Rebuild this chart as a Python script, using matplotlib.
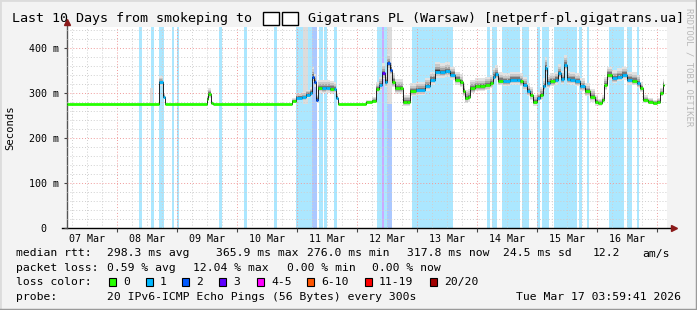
import numpy as np
import pandas as pd
import matplotlib
matplotlib.use("Agg")
import matplotlib.pyplot as plt
import matplotlib.dates as mdates
from matplotlib.patches import Rectangle
from matplotlib.lines import Line2D
from matplotlib.ticker import MultipleLocator, FuncFormatter, NullFormatter

W, H = 697, 310
START = pd.Timestamp("2026-03-07 04:00")
SPAN_H = 240

# median rtt samples (hours since start, ms)
hours = [0, 36.8, 38.4, 39.2, 56.0, 56.4, 57.6, 58.4, 90.0, 91.6, 94.0, 95.6, 97.2, 98.0,
         98.8, 99.6, 100.4, 102.0, 103.6, 105.2, 106.8, 107.6, 108.4, 119.6, 122.0, 123.6,
         124.8, 126.0, 127.2, 128.0, 129.2, 130.0, 131.2, 133.2, 134.4, 136.0, 137.2, 139.6,
         143.2, 145.2, 147.2, 149.2, 151.2, 153.2, 155.2, 157.2, 158.4, 159.2, 160.4, 161.2,
         163.2, 165.2, 167.2, 169.2, 170.4, 171.2, 172.4, 174.4, 177.2, 180.0, 181.2, 182.4,
         184.0, 185.2, 186.4, 188.0, 189.2, 190.4, 191.2, 192.0, 193.2, 195.2, 196.4, 197.6,
         198.8, 200.0, 201.2, 203.2, 205.2, 207.2, 209.2, 211.2, 212.4, 214.0, 214.8, 216.0,
         218.0, 220.0, 222.0, 224.0, 226.0, 228.0, 229.2, 230.4, 232.4, 234.4, 236.0, 237.2,
         238.4]
median_ms = [276, 324, 292, 276, 288, 298, 278, 276, 283, 290, 291, 296, 300, 337,
             325, 285, 312, 311, 312, 310, 309, 290, 276, 280, 283, 309,
             318, 344, 324, 366, 352, 325, 311, 311, 281, 281, 304, 307,
             316, 330, 348, 346, 349, 341, 330, 324, 304, 289, 292, 311,
             315, 315, 318, 322, 337, 342, 328, 326, 330, 330, 326, 318,
             304, 296, 281, 289, 296, 315, 357, 322, 326, 330, 344, 331,
             363, 331, 330, 326, 315, 304, 292, 281, 278, 285, 318, 341,
             333, 337, 341, 330, 328, 322, 311, 285, 281, 278, 281, 300,
             318]
# half-width of the grey "smoke" around the median (ms)
smoke_ms = [0, 14, 8, 0, 6, 14, 4, 0, 6, 10, 12, 12, 14, 22,
            18, 12, 18, 18, 18, 18, 16, 10, 0, 4, 8, 16,
            18, 22, 18, 22, 22, 20, 20, 20, 16, 16, 18, 18,
            18, 18, 22, 20, 20, 18, 18, 18, 18, 18, 18, 18,
            18, 18, 18, 18, 20, 20, 18, 18, 18, 18, 18, 18,
            18, 18, 14, 14, 18, 18, 24, 18, 18, 18, 20, 18,
            22, 18, 18, 18, 18, 18, 18, 14, 10, 10, 18, 18,
            18, 18, 18, 18, 18, 18, 14, 10, 8, 8, 8, 12,
            14]
last_hour = 239.0
# tall smoke columns (start h, end h, top ms)
smoke_cols = [(33.2, 34.4, 312), (94.4, 96.4, 450), (128.0, 130.0, 450)]

# packet loss periods (start h, end h, loss colour index)
loss_spans = [(28.8, 30.0, 1), (33.6, 34.8, 1), (36.8, 38.8, 1), (42.0, 42.8, 1),
              (44.0, 44.8, 1), (60.8, 62.0, 1), (70.8, 72.0, 1), (82.8, 84.0, 1),
              (91.6, 98.0, 1), (98.0, 100.0, 2), (100.8, 102.4, 1), (102.8, 104.0, 1),
              (106.8, 108.0, 1), (124.0, 126.0, 1), (126.0, 126.8, 3), (126.8, 128.0, 1),
              (128.0, 130.0, 2), (138.0, 154.4, 1), (168.0, 169.2, 1), (170.0, 172.0, 1),
              (174.0, 181.2, 1), (182.0, 184.8, 1), (188.0, 189.2, 1), (190.0, 192.8, 1),
              (194.8, 204.0, 1), (204.8, 206.0, 1), (208.0, 208.8, 1), (216.8, 222.8, 1),
              (224.0, 226.0, 1), (228.0, 228.8, 1)]

loss_labels = ["0", "1", "2", "3", "4-5", "6-10", "11-19", "20/20"]
loss_colors = ["#26ff00", "#00b8ff", "#0059ff", "#5e00ff", "#ff00ff", "#ff5500", "#ff0000", "#a10000"]
loss_box_x = [109, 146, 182, 219, 257, 307, 365, 430]

# title; the two flag characters have no glyph in any installed font,
# so they are drawn as "missing glyph" boxes like the reference shows
title_left = "Last 10 Days from smokeping to"
title_right = "Gigatrans PL (Warsaw) [netperf-pl.gigatrans.ua]"
tofu_x = [263, 282]
rtt_items = [("median rtt:", 16), ("298.3 ms avg", 107), ("365.9 ms max", 216), ("276.0 ms min", 307),
             ("317.8 ms now", 407), ("24.5 ms sd", 503), ("12.2", 593), ("am/s", 642)]
loss_items = [("packet loss:", 16), ("0.59 % avg", 107), ("12.04 % max", 193),
              ("0.00 % min", 287), ("0.00 % now", 372)]
probe_text = "20 IPv6-ICMP Echo Pings (56 Bytes) every 300s"
stamp_text = "Tue Mar 17 03:59:41 2026"

plt.rcParams["font.family"] = ["DejaVu Sans Mono", "DejaVu Sans"]
fig = plt.figure(figsize=(W / 100, H / 100), dpi=100, facecolor="#f3f3f3")
ax = fig.add_axes([67 / W, 1 - 228.3 / H, 600 / W, (228.3 - 27) / H])
ax.set_facecolor("white")

t0 = mdates.date2num(START.to_pydatetime())
x = t0 + np.array(hours) / 24.0
med = np.array(median_ms, float)
spr = np.array(smoke_ms, float)
x_ext = np.append(x, t0 + last_hour / 24.0)
med_ext = np.append(med, med[-1])
spr_ext = np.append(spr, spr[-1])

# loss bars
for a, b, lvl in loss_spans:
    ax.axvspan(t0 + a / 24, t0 + b / 24, color=loss_colors[lvl], alpha=0.33, lw=0, zorder=1)

# smoke
for a, b, top in smoke_cols:
    ax.fill_between([t0 + a / 24, t0 + b / 24], 276, top, color="#dcdcdc", lw=0, zorder=1.2)
for f, c in [(1.0, "#e2e2e2"), (0.72, "#c8c8c8"), (0.48, "#a6a6a6"), (0.28, "#787878"), (0.12, "#3c3c3c")]:
    ax.fill_between(x_ext, med_ext - 0.6 * f * spr_ext, med_ext + f * spr_ext,
                    step="post", color=c, lw=0, zorder=1.3)

# median line, coloured by loss
ax.step(x_ext, med_ext, where="post", color="black", lw=0.6, zorder=3)
levels = []
for h in hours:
    lv = 0
    for a, b, l in loss_spans:
        if a <= h < b:
            lv = l
    levels.append(lv)
for i in range(len(x)):
    ax.hlines(med[i], x[i], x_ext[i + 1], colors=loss_colors[levels[i]], lw=2.0, zorder=4)

ax.set_xlim(t0, t0 + SPAN_H / 24)
ax.set_ylim(0, 447)

# grid / ticks
ax.xaxis.set_major_locator(mdates.DayLocator())
ax.xaxis.set_minor_locator(mdates.HourLocator(byhour=[6, 12, 18]))
ax.xaxis.set_major_formatter(NullFormatter())
ax.xaxis.set_minor_formatter(FuncFormatter(
    lambda v, p: mdates.num2date(v).strftime("%d %b") if mdates.num2date(v).hour == 12 else ""))
ax.yaxis.set_major_locator(MultipleLocator(100))
ax.yaxis.set_minor_locator(MultipleLocator(20))
ax.yaxis.set_major_formatter(FuncFormatter(lambda v, p: "0  " if v == 0 else f"{int(v)} m"))
ax.set_axisbelow(False)
ax.grid(which="major", color="#f09a9a", ls=(0, (1, 2)), lw=0.7)
ax.grid(which="minor", color="#cfcfcf", ls=(0, (1, 2)), lw=0.7)
ax.tick_params(axis="x", which="major", length=3, width=0.8, color="#444444")
ax.tick_params(axis="x", which="minor", length=0, pad=4, labelsize=7.2)
ax.tick_params(axis="y", which="major", length=2, width=0.8, pad=4, labelsize=7.2, color="#444444")
ax.tick_params(axis="y", which="minor", length=0)
for s in ["top", "right", "bottom", "left"]:
    ax.spines[s].set_visible(False)

# axis lines with arrows
ax.add_line(Line2D([-0.008, 1.01], [0, 0], transform=ax.transAxes, color="black", lw=1, clip_on=False))
ax.add_line(Line2D([0, 0], [0, 1.02], transform=ax.transAxes, color="#555555", lw=1, clip_on=False))
ax.plot([1.012], [0], marker=">", ms=4, color="#8b1a1a", transform=ax.transAxes, clip_on=False)
ax.plot([0], [1.025], marker="^", ms=4, color="#8b1a1a", transform=ax.transAxes, clip_on=False)


def fx(px):
    return px / W


def fy(py):
    return 1 - py / H


fig.text(fx(12), fy(18.5), title_left, ha="left", va="center", fontsize=9.6)
for tx in tofu_x:
    fig.add_artist(Rectangle((fx(tx), fy(25)), 16 / W, 13 / H, facecolor="white", edgecolor="black",
                             lw=1.0, transform=fig.transFigure))
fig.text(fx(308), fy(18.5), title_right, ha="left", va="center", fontsize=9.6)
fig.text(fx(10), fy(128), "Seconds", rotation=90, ha="center", va="center", fontsize=7.6)
fig.text(fx(689), fy(8), "RRDTOOL / TOBI OETIKER", rotation=270, ha="center", va="top",
         fontsize=6.4, color="#b8b8b8")

fs = 8.2
for txt, px in rtt_items:
    fig.text(fx(px), fy(253.5), txt, ha="left", va="center", fontsize=fs)
for txt, px in loss_items:
    fig.text(fx(px), fy(268), txt, ha="left", va="center", fontsize=fs)
fig.text(fx(16), fy(282), "loss color:", ha="left", va="center", fontsize=fs)
for lab, col, bx in zip(loss_labels, loss_colors, loss_box_x):
    fig.add_artist(Rectangle((fx(bx), fy(286)), 7 / W, 8 / H, facecolor=col, edgecolor="black",
                             lw=0.8, transform=fig.transFigure))
    fig.text(fx(bx + 14), fy(282), lab, ha="left", va="center", fontsize=fs)
fig.text(fx(16), fy(296.5), "probe:", ha="left", va="center", fontsize=fs)
fig.text(fx(107), fy(296.5), probe_text, ha="left", va="center", fontsize=fs)
fig.text(fx(681), fy(296.5), stamp_text, ha="right", va="center", fontsize=fs)

# 3d frame
fig.add_artist(Line2D([0, 0, 1], [0, 1, 1], transform=fig.transFigure, color="#dcdcdc", lw=2))
fig.add_artist(Line2D([0, 1, 1], [0, 0, 1], transform=fig.transFigure, color="#9a9a9a", lw=2.5))

fig.savefig("out.png", dpi=100, facecolor=fig.get_facecolor())
